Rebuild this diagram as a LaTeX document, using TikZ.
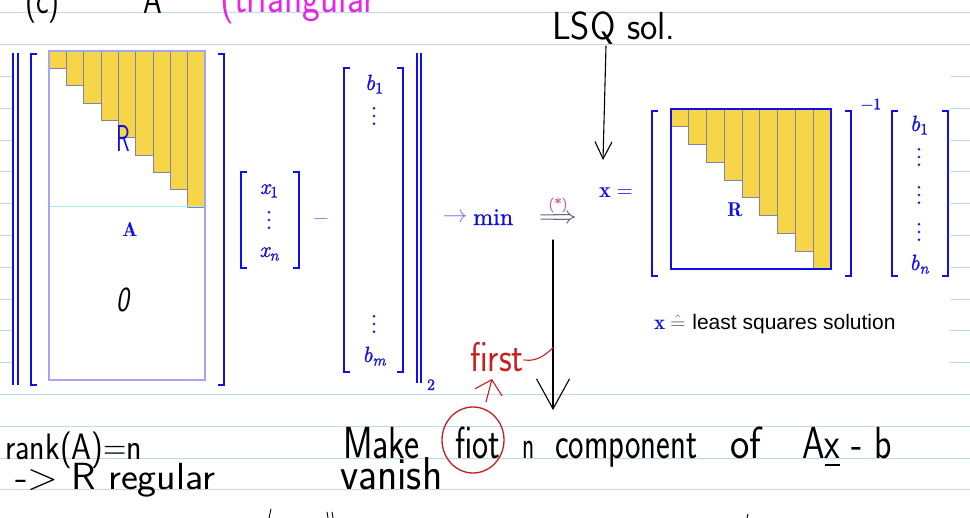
\RequirePackage{fix-cm}
\documentclass[tikz,border=0pt]{standalone}
\usepackage{amsmath,amssymb}
\usepackage{graphicx}
\usepackage{fontspec}
\newfontfamily\arialf{Liberation Sans}
\newfontfamily\lmit{lmroman10-italic.otf}[FakeBold=1]
\newfontfamily\lmup{lmroman10-regular.otf}[FakeBold=1]
\usetikzlibrary{arrows.meta}
\definecolor{mblue}{RGB}{15,15,230}
\definecolor{lblue}{RGB}{125,125,240}
\definecolor{gold}{RGB}{247,213,72}
\definecolor{stair}{RGB}{130,130,175}
\definecolor{boxl}{RGB}{165,165,245}
\definecolor{ruled}{RGB}{190,218,242}
\definecolor{magen}{RGB}{230,40,230}
\definecolor{pinkm}{RGB}{225,90,160}
\definecolor{redh}{RGB}{200,30,30}
\definecolor{cyanl}{RGB}{160,240,240}
\definecolor{darkg}{RGB}{70,70,90}
\newcommand{\myfs}[1]{\fontsize{#1}{#1}\selectfont}
\newcommand{\hw}[4]{\scalebox{#2}[#3]{\myfs{#1}\sffamily #4}}
\newcommand{\ent}[2]{{\lmit #1}\raisebox{-0.16em}{\myfs{16}#2}}
\newcommand{\myvdots}{\vbox{\baselineskip=7.8pt\lineskiplimit=0pt\hbox{\lmup .}\hbox{\lmup .}\hbox{\lmup .}}}
\tikzset{
  hand/.style={inner sep=0pt, anchor=base west},
  mth/.style={text=mblue, inner sep=0pt},
  brk/.style={draw=mblue, line width=1.5pt},
  normbar/.style={draw=mblue, line width=1.4pt},
  stairs/.style={fill=gold, draw=stair, line width=0.8pt},
  penline/.style={line width=1.1pt, line cap=round, line join=round},
}
\newcommand{\lbrk}[3]{\draw[brk] ({#1+6},#2) -- (#1,#2) -- (#1,#3) -- ({#1+6},#3);}
\newcommand{\rbrk}[3]{\draw[brk] ({#1-6},#2) -- (#1,#2) -- (#1,#3) -- ({#1-6},#3);}
\begin{document}
\begin{tikzpicture}[x=1pt,y=-1pt]
\useasboundingbox (0,0) rectangle (970,518);
\fill[white] (0,0) rectangle (970,518);
% ruled paper
\foreach \k in {0,...,15} \draw[ruled, line width=1pt] (0,{13+31.8*\k}) -- (970,{13+31.8*\k});
\fill[white] (12,47) rectangle (950,393);

% ---------- top handwriting
\node[hand] (lc) at (25,14) {\hw{30}{1}{1.3}{(c)}};
\node[hand] (lA) at (143,14) {\hw{30}{1}{1.3}{A}};
\node[hand, text=magen] (tri) at (220,13) {\hw{35}{1.08}{1.3}{(triangular}};
\node[hand] (lsq) at (552,40) {\hw{34}{1.08}{1.15}{LSQ sol.}};

% ---------- left: || A x - b ||_2
\draw[normbar] (13,53) -- (13,385);
\draw[normbar] (18,53) -- (18,385);
\lbrk{31}{54}{385}
\rbrk{224}{54}{385}
\foreach \k in {0,...,8}
  \draw[stairs] ({49+17.333*\k},51) rectangle ({49+17.333*(\k+1)},{51+17.333*(\k+1)});
\draw[cyanl, line width=1pt] (49,207) -- (205,207);
\draw[boxl, line width=1.2pt] (49,51) rectangle (205,380);
\node[inner sep=0pt, text=mblue] (Rh) at (123,138) {\hw{30}{0.75}{1.25}{R}};
\node[mth, anchor=base] (Abold) at (130,237) {\myfs{20}$\mathbf{A}$};
\node[inner sep=0pt] (zero) at (123,300) {\hw{32}{0.85}{1.1}{\slshape 0}};

% x vector
\lbrk{241}{172}{268}
\rbrk{299}{172}{268}
\node[mth, anchor=base] (x1) at (269,194) {\myfs{22}\ent{x}{\lmup 1}};
\node[mth] (xvd) at (269,220) {\myfs{22}\myvdots};
\node[mth, anchor=base] (xn) at (269,257) {\myfs{22}\ent{x}{\lmit n}};
\node[inner sep=0pt, text=lblue] (minus) at (321,219) {\myfs{22}$-$};

% b vector
\lbrk{344}{68}{372}
\rbrk{403}{68}{372}
\node[mth, anchor=base] (b1) at (374,90) {\myfs{22}\ent{b}{\lmup 1}};
\node[mth] (bvd1) at (374,116) {\myfs{22}\myvdots};
\node[mth] (bvd2) at (374,324) {\myfs{22}\myvdots};
\node[mth, anchor=base] (bm) at (374,362) {\myfs{22}\ent{b}{\lmit m}};
\draw[normbar] (417,53) -- (417,383);
\draw[normbar] (421,53) -- (421,383);
\node[mth, anchor=base] (two) at (431,390) {\myfs{16}\lmup 2};

% -> min  ==>
\node[inner sep=0pt, text=lblue] (toar) at (455,218) {\myfs{25}$\rightarrow$};
\node[mth, anchor=base west] (min) at (473,225) {\myfs{24}\lmup min};
\node[inner sep=0pt, text=darkg] (impl) at (558,219) {\myfs{24}$\Longrightarrow$};
\node[inner sep=0pt, text=pinkm] (star) at (558,205) {\myfs{15}\lmup(*)};

% ---------- right: x = R^{-1} b
\node[mth, anchor=base west] (xeq) at (599,198) {\myfs{22}$\mathbf{x} =$};
\lbrk{652}{111}{276}
\rbrk{851}{111}{276}
\foreach \k in {0,...,8}
  \draw[stairs] ({671+17.778*\k},109) rectangle ({671+17.778*(\k+1)},{109+17.778*(\k+1)});
\draw[mblue, line width=1.2pt] (671,109) rectangle (831,269);
\node[mth, anchor=base] (Rbold) at (735,217) {\myfs{20}$\mathbf{R}$};
\node[mth] (inv) at (871,104) {\myfs{16}\lmup −1};
\lbrk{892}{111}{276}
\rbrk{948}{111}{276}
\node[mth, anchor=base] (rb1) at (919,131) {\myfs{22}\ent{b}{\lmup 1}};
\node[mth] (rvd1) at (919,157) {\myfs{22}\myvdots};
\node[mth] (rvd2) at (919,195) {\myfs{22}\myvdots};
\node[mth] (rvd3) at (919,232) {\myfs{22}\myvdots};
\node[mth, anchor=base] (rbn) at (919,270) {\myfs{22}\ent{b}{\lmit n}};

\node[inner sep=0pt, anchor=base west] (lsqsol) at (654,330)
  {\myfs{21}{\color{mblue}$\mathbf{x}$}\hspace{5pt}{\color{darkg}$\hat{=}$}\hspace{7pt}\arialf least squares solution};

% ---------- arrows
\coordinate (lsqA) at (606,46);
\coordinate (lsqB) at (603,160);
\draw[penline, -{Straight Barb[length=17pt,width=17pt,line width=1.1pt]}] (lsqA) -- (lsqB);
\coordinate (bigA) at (553,240);
\coordinate (bigB) at (553,410);
\draw[penline, -{Straight Barb[length=30pt,width=33pt,line width=1.1pt]}] (bigA) -- (bigB);

% ---------- bottom handwriting
\node[hand] (rank) at (5,460) {\hw{32}{1}{1.15}{rank(A)=n}};
\node[hand] (Rreg) at (15,490) {\hw{36}{1.12}{1.05}{->\ R regular}};
\node[hand] (w1) at (343,459) {\hw{36}{1}{1.25}{Make}};
\node[hand] (w2) at (455,459) {\hw{36}{0.95}{1.25}{fiot}};
\node[hand] (w3) at (522,459) {\hw{36}{0.7}{1.1}{n}};
\node[hand] (w4) at (555,459) {\hw{36}{0.91}{1.25}{component}};
\node[hand] (w5) at (730,459) {\hw{36}{1.14}{1.25}{of}};
\node[hand] (w6) at (802,459) {\hw{36}{1}{1.25}{A\underline{x} - b}};
\node[hand] (van) at (340,490) {\hw{40}{1.05}{1.15}{vanish}};

% red correction
\coordinate (circ) at (473,440);
\draw[redh, line width=1.3pt] (circ) ellipse [x radius=31pt, y radius=33pt];
\node[hand, text=redh] (first) at (470,372) {\hw{32}{1.1}{1.3}{first}};
\draw[redh, penline] (first.east |- 0,360) .. controls (538,362) and (546,354) .. (554,347);
\coordinate (redA) at (486,402);
\coordinate (redB) at (492,379);
\draw[redh, penline, -{Straight Barb[length=13pt,width=28pt,line width=1.1pt]}] (redA) -- (redB);

% cut-off strokes of the next line
\draw[penline, line width=0.9pt] (327,512) -- (328,518);
\draw[penline, line width=0.9pt] (332,512) -- (333,518);
\draw[penline, line width=0.9pt] (271,509) -- (269,518);
\draw[penline, line width=0.9pt] (748,514) -- (747,518);
\end{tikzpicture}
\end{document}
